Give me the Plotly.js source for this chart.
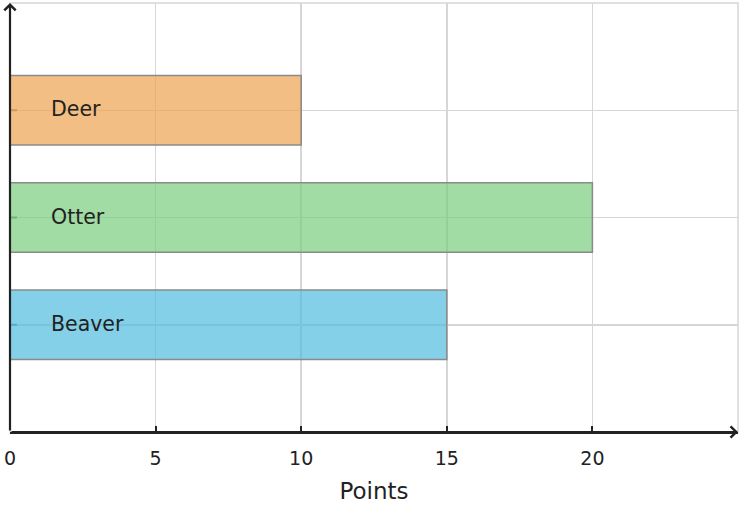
<!DOCTYPE html>
<html>
<head>
<meta charset="utf-8">
<script src="https://cdn.plot.ly/plotly-3.0.1.min.js"></script>
<style>
  html, body { margin:0; padding:0; background:#fff; }
  #chart { width:742px; height:508px; }
</style>
</head>
<body>
<div id="chart"></div>
<script>
// data
const animals = ['Beaver', 'Otter', 'Deer'];
const points = [15, 20, 10];
const fills = ['rgba(80,188,222,0.7)', 'rgba(119,205,125,0.7)', 'rgba(238,162,79,0.7)'];
const tickMarks = ['#5aaccb', '#69b871', '#cf9660'];
const xTicks = [0, 5, 10, 15, 20];

(function(){
  const font = 'DejaVu Sans, sans-serif';
  const ink = '#222222';

  const bars = {
    type: 'bar', orientation: 'h',
    x: points, y: animals,
    width: 0.65,
    marker: { color: fills, line: { color: '#8a8a8a', width: 1.5 } },
    hoverinfo: 'x+y'
  };
  // little coloured stubs on the y axis
  const stubs = {
    type: 'scatter', mode: 'markers',
    x: animals.map(() => 0), y: animals,
    marker: { symbol: 'line-ew-open', size: 10, color: tickMarks, line: { color: tickMarks, width: 2 } },
    cliponaxis: true, hoverinfo: 'skip', showlegend: false
  };

  const labels = animals.map(a => ({
    x: 0, y: a, xref: 'x', yref: 'y', text: a, showarrow: false,
    xanchor: 'left', xshift: 39, yshift: 1, font: { family: font, size: 20.5, color: ink }
  }));

  const arrows = [
    { x: 25, y: -1, ax: 0, ay: -1, xref: 'x', yref: 'y', axref: 'x', ayref: 'y', text: '',
      showarrow: true, arrowhead: 4, arrowsize: 1, arrowwidth: 2.2, arrowcolor: ink },
    { x: 0, y: 3, ax: 0, ay: -1, xref: 'x', yref: 'y', axref: 'x', ayref: 'y', text: '',
      showarrow: true, arrowhead: 4, arrowsize: 1, arrowwidth: 2.2, arrowcolor: ink }
  ];

  const layout = {
    width: 742, height: 508,
    margin: { l: 10, r: 4, t: 3, b: 76 },
    paper_bgcolor: '#fff', plot_bgcolor: '#fff',
    showlegend: false,
    font: { family: font, color: ink },
    xaxis: {
      range: [0, 25], tickvals: xTicks, ticktext: xTicks.map(String),
      ticks: 'inside', ticklen: 6, tickwidth: 2, tickcolor: ink,
      showgrid: true, gridcolor: '#d6d6d6', gridwidth: 1.5,
      zeroline: false, showline: true, linecolor: ink, linewidth: 2,
      layer: 'above traces',
      tickfont: { family: font, size: 19, color: ink },
      ticklabelstandoff: 8,
      title: { text: 'Points', font: { family: font, size: 23, color: ink }, standoff: 15 }
    },
    yaxis: {
      type: 'category', categoryarray: animals, range: [-1, 3],
      showticklabels: false, ticks: '',
      showgrid: true, gridcolor: '#d6d6d6', gridwidth: 1.5,
      zeroline: false, showline: false
    },
    shapes: [
      { type: 'rect', xref: 'paper', yref: 'paper', x0: 0, x1: 1, y0: 0, y1: 1,
        line: { color: '#d6d6d6', width: 1.5 }, layer: 'below' }
    ],
    annotations: labels.concat(arrows)
  };

  Plotly.newPlot('chart', [bars, stubs], layout, { displayModeBar: false, staticPlot: true });
})();
</script>
</body>
</html>
